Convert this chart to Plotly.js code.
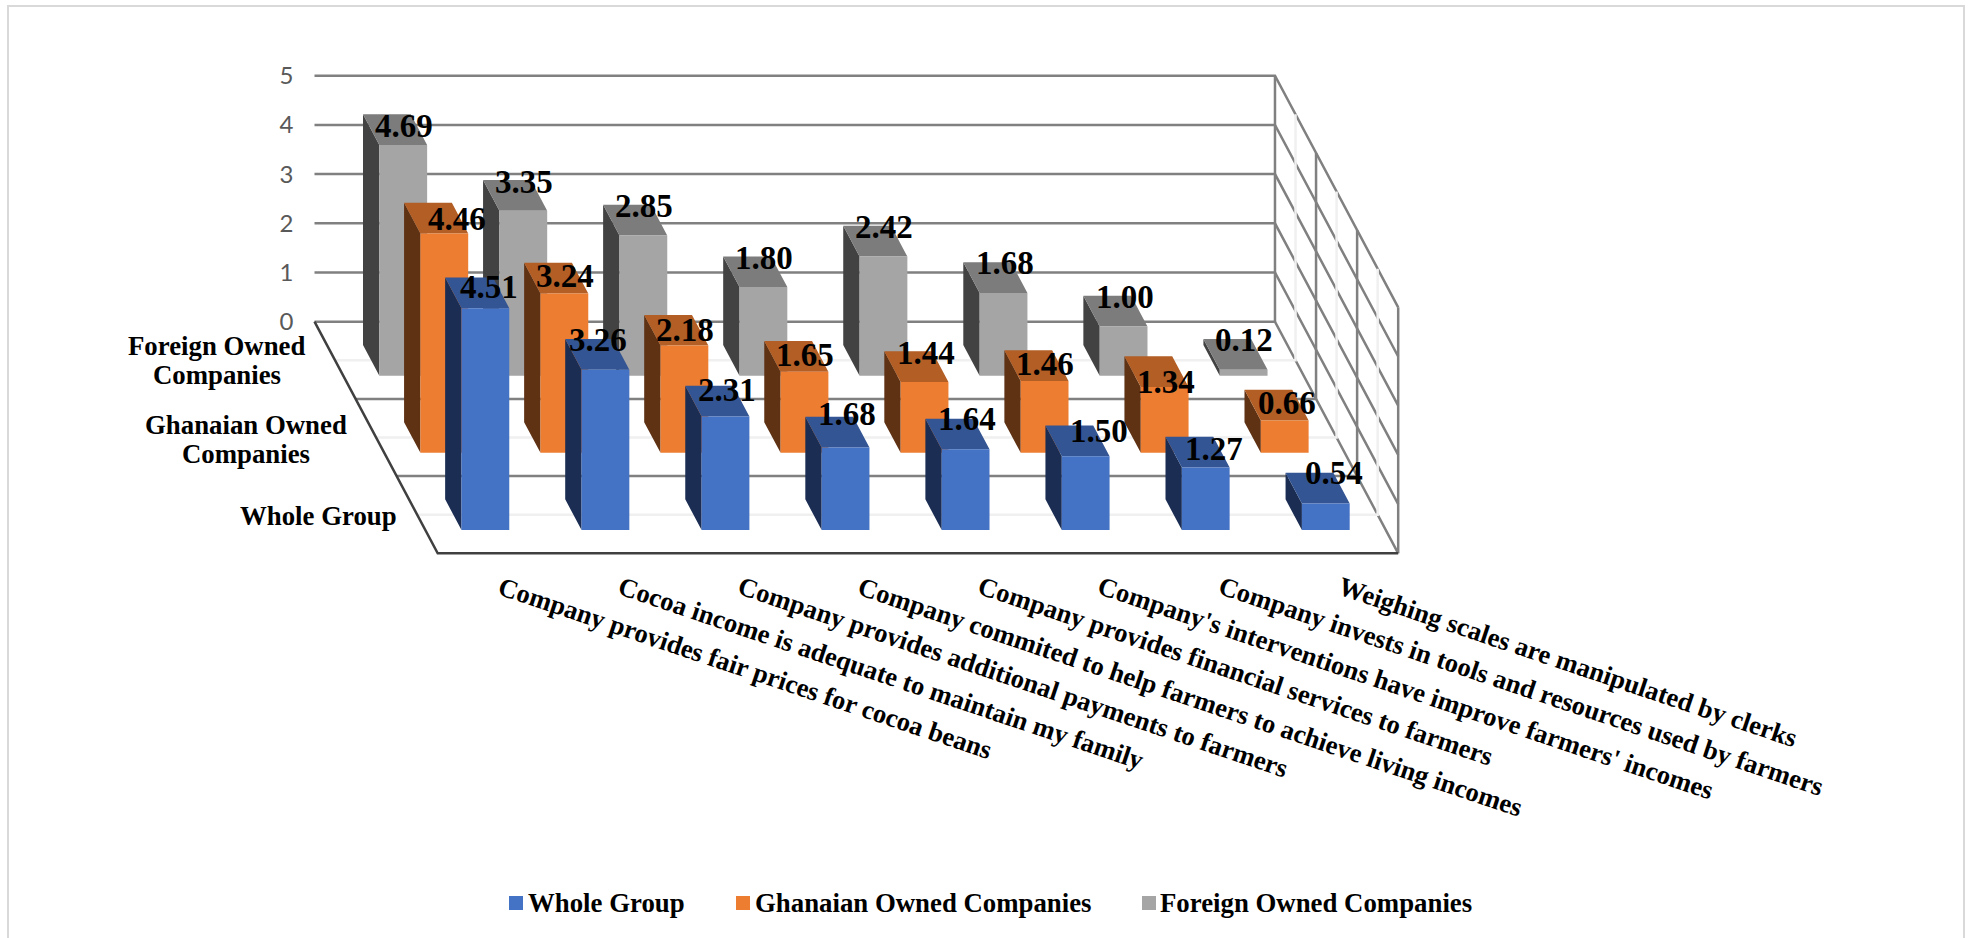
<!DOCTYPE html>
<html>
<head>
<meta charset="utf-8">
<title>Company practices and farmer incomes</title>
<script src="https://cdn.plot.ly/plotly-3.0.1.min.js"></script>
<style>html,body{margin:0;padding:0;background:#fff;overflow:hidden}</style>
</head>
<body>
<div id="chart" style="width:1969px;height:938px"></div>
<script>
// Survey statements along the category axis
const categories = [
  "Company provides fair prices for cocoa beans",
  "Cocoa income is adequate to maintain my family",
  "Company provides additional payments to farmers",
  "Company commited to help farmers to achieve living incomes",
  "Company provides financial services to farmers",
  "Company's interventions have improve farmers' incomes",
  "Company invests in tools and resources used by farmers",
  "Weighing scales are manipulated by clerks"
];

// Scores per respondent group
const wholeGroup = [4.51, 3.26, 2.31, 1.68, 1.64, 1.50, 1.27, 0.54];
const ghanaianOwned = [4.46, 3.24, 2.18, 1.65, 1.44, 1.46, 1.34, 0.66];
const foreignOwned = [4.69, 3.35, 2.85, 1.80, 2.42, 1.68, 1.00, 0.12];

const valueTicks = [0, 1, 2, 3, 4, 5];

// Hand placement of the value labels, in pixels from the top front edge of each column
const foreignLabelShift = [[1, -19], [1, -29], [1, -29], [1, -29], [1, -30], [1, -30], [1, -29], [0, -30]];
const ghanaianLabelShift = [[13, -14], [1, -17], [1, -16], [1, -17], [1, -29], [0, -17], [1, -5], [2, -17]];
const wholeLabelShift = [[4, -21], [-7, -30], [1, -26], [1, -33], [1, -30], [13, -25], [8, -19], [8, -30]];

// Rows run from the back wall to the front of the floor
const rows = [
  {name: "Foreign Owned Companies", wallLines: ["Foreign Owned", "Companies"], values: foreignOwned, shift: foreignLabelShift,
   front: "#A5A5A5", top: "#7C7C7C", side: "#424242", wallX: 217, wallY: 360},
  {name: "Ghanaian Owned Companies", wallLines: ["Ghanaian Owned", "Companies"], values: ghanaianOwned, shift: ghanaianLabelShift,
   front: "#ED7D31", top: "#B25E24", side: "#5F3214", wallX: 246, wallY: 439},
  {name: "Whole Group", wallLines: ["Whole Group"], values: wholeGroup, shift: wholeLabelShift,
   front: "#4472C4", top: "#335593", side: "#1B2D52", wallX: 318, wallY: 516}
];
const legendOrder = [2, 1, 0];

// Oblique projection: one unit of depth slides right and down in axis units
const W = 1969, H = 938;
const pxPerCategory = 120.06, pxPerValue = 49.2;
const originX = 314.5, originY = 321.7;
const depthRight = 41.07 / pxPerCategory, depthDown = 77.2 / pxPerValue;
const project = (cat, depth, val) => [cat + depth * depthRight, val - depth * depthDown];

// Column footprint as a share of its cell (gap width 150%)
const barShare = 0.398;
const nCat = categories.length, nRow = rows.length, maxVal = 5;

const serif = "'Liberation Serif','Times New Roman',serif";
const pxX = px => (px - originX) / pxPerCategory;
const pxY = px => (originY - px) / pxPerValue;

function lineTrace(segments, color, width) {
  const x = [], y = [];
  segments.forEach(seg => {
    seg.forEach(p => { x.push(p[0]); y.push(p[1]); });
    x.push(null); y.push(null);
  });
  return {type: "scatter", mode: "lines", x, y, line: {color, width}, hoverinfo: "skip", showlegend: false};
}

const traces = [];

// Faint mid-row guides on the floor and the side wall
const faint = [];
for (let d = 0.5; d < nRow; d += 1) {
  faint.push([project(0, d, 0), project(nCat, d, 0), project(nCat, d, maxVal)]);
}

// Wall and floor grid
const grid = [];
valueTicks.forEach(v => {
  grid.push([project(0, 0, v), project(nCat, 0, v), project(nCat, nRow, v)]);
});
grid.push([project(nCat, 0, 0), project(nCat, 0, maxVal)]);
grid.push([project(nCat, nRow, 0), project(nCat, nRow, maxVal)]);
for (let d = 1; d < nRow; d += 1) {
  grid.push([project(0, d, 0), project(nCat, d, 0), project(nCat, d, maxVal)]);
}
traces.push(lineTrace(grid, "#808080", 2.5));
traces.push(lineTrace(faint, "#f0f0f0", 2.5));

// Floor edges
traces.push(lineTrace([[project(0, 0, 0), project(0, nRow, 0), project(nCat, nRow, 0)]], "#404040", 2.5));

function addPolys(polys, color, name) {
  const x = [], y = [];
  polys.forEach(poly => {
    poly.forEach(p => { x.push(p[0]); y.push(p[1]); });
    x.push(poly[0][0]); y.push(poly[0][1]);
    x.push(null); y.push(null);
  });
  traces.push({type: "scatter", mode: "lines", x, y, fill: "toself", fillcolor: color,
    line: {width: 0, color}, name, showlegend: false, hoverinfo: "skip"});
}

// Columns, painted from the back row forward
const annotations = [];
rows.forEach((row, r) => {
  const dA = r + 0.5 - barShare / 2, dB = r + 0.5 + barShare / 2;
  const side = [], top = [], front = [];
  row.values.forEach((v, i) => {
    const a = i + 0.5 - barShare / 2, b = i + 0.5 + barShare / 2;
    side.push([project(a, dA, 0), project(a, dB, 0), project(a, dB, v), project(a, dA, v)]);
    top.push([project(a, dA, v), project(b, dA, v), project(b, dB, v), project(a, dB, v)]);
    front.push([project(a, dB, 0), project(b, dB, 0), project(b, dB, v), project(a, dB, v)]);
  });
  addPolys(side, row.side, row.name);
  addPolys(top, row.top, row.name);
  addPolys(front, row.front, row.name);

  // Value labels sit on the top of each column
  row.values.forEach((v, i) => {
    const p = project(i + 0.5, dB, v);
    annotations.push({x: p[0], y: p[1], xref: "x", yref: "y", text: v.toFixed(2), showarrow: false,
      xanchor: "center", yanchor: "middle", xshift: row.shift[i][0], yshift: -row.shift[i][1],
      font: {family: serif, size: 33, color: "#000", weight: 700}});
  });

  // Depth axis labels
  row.wallLines.forEach((line, k) => {
    const yPx = row.wallY + (k - (row.wallLines.length - 1) / 2) * 29;
    annotations.push({x: pxX(row.wallX), y: pxY(yPx), xref: "x", yref: "y", text: line, showarrow: false,
      xanchor: "center", yanchor: "middle", font: {family: serif, size: 26.8, color: "#000", weight: 700}});
  });
});

// Category labels hang from the front edge of the floor
categories.forEach((c, i) => {
  const p = project(i + 0.5, nRow, 0);
  annotations.push({x: p[0], y: p[1], xref: "x", yref: "y", text: c, showarrow: false, textangle: 18.6,
    xanchor: "left", yanchor: "top", xshift: -6, yshift: -15,
    font: {family: serif, size: 26.6, color: "#000", weight: 700}});
});

// Legend row
const legendMarks = [516, 743, 1149];
const legendText = [526, 752.5, 1158];
legendOrder.forEach((r, k) => {
  traces.push({type: "scatter", mode: "markers", x: [pxX(legendMarks[k])], y: [pxY(903)],
    marker: {symbol: "square", size: 14, color: rows[r].front, line: {width: 0}},
    name: rows[r].name, showlegend: false, hoverinfo: "skip"});
  annotations.push({x: pxX(legendText[k]), y: pxY(903), xref: "x", yref: "y", text: rows[r].name, showarrow: false,
    xanchor: "left", yanchor: "middle", font: {family: serif, size: 26.8, color: "#000", weight: 700}});
});

const layout = {
  width: W, height: H, autosize: false,
  margin: {l: 0, r: 0, t: 0, b: 0, pad: 0},
  paper_bgcolor: "#fff", plot_bgcolor: "rgba(0,0,0,0)",
  showlegend: false,
  xaxis: {visible: false, range: [pxX(0), pxX(W)], fixedrange: true},
  yaxis: {
    range: [pxY(H), pxY(0)], fixedrange: true, anchor: "free", position: originX / W, side: "left",
    tickmode: "array", tickvals: valueTicks, ticktext: valueTicks.map(String),
    showgrid: false, zeroline: false, showline: false, ticks: "", ticklabelstandoff: 21,
    tickfont: {family: "Lato, 'Open Sans', sans-serif", size: 24, color: "#595959"}
  },
  annotations,
  shapes: [{
    type: "path", xref: "paper", yref: "paper",
    path: `M ${8 / W} 0 L ${8 / W} ${1 - 6 / H} L ${1964 / W} ${1 - 6 / H} L ${1964 / W} 0`,
    line: {color: "#d9d9d9", width: 2}, layer: "below"
  }]
};

Plotly.newPlot("chart", traces, layout, {staticPlot: true, displayModeBar: false});
</script>
</body>
</html>
